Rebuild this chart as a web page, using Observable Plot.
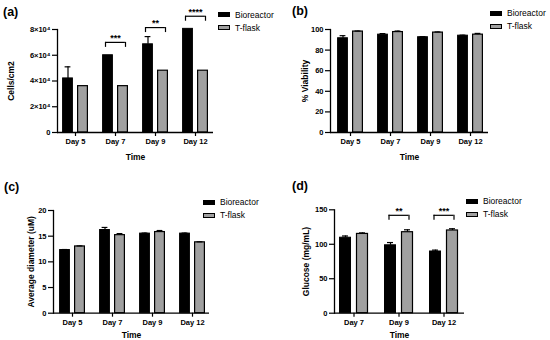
<!DOCTYPE html>
<html><head><meta charset="utf-8">
<script src="https://cdn.jsdelivr.net/npm/d3@7"></script>
<script src="https://cdn.jsdelivr.net/npm/@observablehq/plot@0.6"></script>
<style>
body{margin:0;background:#fff;}
#fig{position:relative;width:550px;height:340px;font-family:"Liberation Sans",Arial,sans-serif;color:#000;overflow:hidden;}
.panel{position:absolute;}
.panel g[aria-label$="axis label"]{font-size:8.5px;}
.tag{position:absolute;font-weight:bold;font-size:12.5px;line-height:1;}
.legend{position:absolute;font-size:8.5px;}
.legend div{display:flex;align-items:center;height:13px;white-space:nowrap;}
.sw{display:inline-block;width:12px;height:5px;margin-right:5px;box-sizing:border-box;border:1px solid #000;}
</style></head><body><div id="fig"></div>
<script>
// ---- data ----
const series = ["Bioreactor", "T-flask"];
const seriesFill = ["#000000", "#a0a0a0"];
const days4 = ["Day 5", "Day 7", "Day 9", "Day 12"];
const days3 = ["Day 7", "Day 9", "Day 12"];

// (a) Cells/cm2
const cellsBio = [42000, 60000, 68500, 80500];
const cellsBioErr = [9000, 0, 6000, 0];
const cellsTf = [36000, 36000, 48000, 48000];
const cellsTfErr = [0, 0, 0, 0];
const cellsTicks = [0, 20000, 40000, 60000, 80000];
const cellsSigDays = ["Day 7", "Day 9", "Day 12"];
const cellsSigLabels = ["***", "**", "****"];
const cellsSigLevels = [70000, 81500, 90300];

// (b) % Viability
const viaBio = [91.5, 95, 92.5, 94];
const viaBioErr = [2.5, 1, 0.5, 0.5];
const viaTf = [98, 97.5, 97, 95];
const viaTfErr = [0.5, 1, 0.6, 1.2];
const viaTicks = [0, 20, 40, 60, 80, 100];

// (c) Average diameter
const diaBio = [12.3, 16.2, 15.5, 15.5];
const diaBioErr = [0.1, 0.5, 0.1, 0.1];
const diaTf = [13.0, 15.2, 15.8, 13.8];
const diaTfErr = [0.1, 0.3, 0.3, 0.1];
const diaTicks = [0, 5, 10, 15, 20];

// (d) Glucose
const gluBio = [109.5, 98.5, 89.5];
const gluBioErr = [2.5, 4, 2];
const gluTf = [115, 117.5, 120];
const gluTfErr = [1.5, 3.5, 2.5];
const gluTicks = [0, 50, 100, 150];
const gluSigDays = ["Day 9", "Day 12"];
const gluSigLabels = ["**", "***"];
const gluSigLevels = [142, 142];

const fig = document.getElementById("fig");

function panel(o) {
  const W = 275, H = 170;
  const bioRows = o.days.map((d, i) => ({day: d, v: o.bio[i], e: o.bioErr[i]}));
  const tfRows = o.days.map((d, i) => ({day: d, v: o.tf[i], e: o.tfErr[i]}));
  const step = (o.xRange[1] - o.xRange[0]) / o.days.length;
  const ins = (sgn) => ({insetLeft: step / 2 + sgn * o.off - o.barW / 2, insetRight: step / 2 - sgn * o.off - o.barW / 2});
  const capIns = (sgn) => ({insetLeft: step / 2 + sgn * o.off - 3, insetRight: step / 2 - sgn * o.off - 3});
  const ph = H - o.mT - o.mB;
  const leg = o.yMax / ph * 5;
  const sig = (o.sigDays || []).map((d, i) => ({day: d, y: o.sigLevels[i], label: o.sigLabels[i]}));
  const bioE = bioRows.filter(r => r.e > 0), tfE = tfRows.filter(r => r.e > 0);
  const bh = o.bh;
  const p = Plot.plot({
    width: W, height: H,
    marginLeft: o.mL, marginRight: o.mR, marginTop: o.mT, marginBottom: o.mB,
    style: {fontFamily: "Liberation Sans, Arial, sans-serif", color: "#000", background: "transparent", overflow: "visible"},
    x: {type: "band", domain: o.days, range: o.xRange, padding: 0},
    y: {domain: [0, o.yMax]},
    marks: [
      Plot.barY(bioRows, {x: "day", y: "v", fill: seriesFill[0], stroke: "#000", strokeWidth: 1, ...ins(-1)}),
      Plot.barY(tfRows, {x: "day", y: "v", fill: seriesFill[1], stroke: "#000", strokeWidth: 1.2, ...ins(1)}),
      Plot.ruleX(bioE, {x: "day", y1: "v", y2: r => r.v + r.e, dx: -o.off, stroke: "#000", strokeWidth: 1.2}),
      Plot.tickY(bioE, {x: "day", y: r => r.v + r.e, stroke: "#000", strokeWidth: 1.2, ...capIns(-1)}),
      Plot.ruleX(tfE, {x: "day", y1: "v", y2: r => r.v + r.e, dx: o.off, stroke: "#000", strokeWidth: 1.2}),
      Plot.tickY(tfE, {x: "day", y: r => r.v + r.e, stroke: "#000", strokeWidth: 1.2, ...capIns(1)}),
      Plot.tickY(sig, {x: "day", y: "y", stroke: "#000", strokeWidth: 1.2, insetLeft: step / 2 - bh, insetRight: step / 2 - bh}),
      Plot.ruleX(sig, {x: "day", y1: r => r.y - leg, y2: "y", dx: -bh, stroke: "#000", strokeWidth: 1.2}),
      Plot.ruleX(sig, {x: "day", y1: r => r.y - leg, y2: "y", dx: bh, stroke: "#000", strokeWidth: 1.2}),
      Plot.text(sig, {x: "day", y: "y", text: "label", dy: -4, fontWeight: "bold", fontSize: 9}),
      Plot.ruleY([0], {stroke: "#000", strokeWidth: 1.3}),
      Plot.axisY({ticks: o.yTicks, tickFormat: o.yFormat, tickSize: 5, tickPadding: 2, fontSize: 7.5, fontWeight: "bold", strokeWidth: 1.2,
        label: o.yLabel, labelAnchor: "center", labelArrow: "none", labelOffset: o.yLabelOffset}),
      Plot.axisX({tickSize: 4, tickPadding: 2, fontSize: 7.5, fontWeight: "bold", strokeWidth: 1.2,
        label: "Time", labelAnchor: "center", labelArrow: "none", labelOffset: o.xLabelOffset}),
      Plot.frame({anchor: "left", stroke: "#000", strokeWidth: 1.3})
    ]
  });
  p.classList.add("panel");
  p.style.left = o.left + "px";
  p.style.top = o.top + "px";
  fig.appendChild(p);

  const tag = document.createElement("div");
  tag.className = "tag";
  tag.textContent = o.tag;
  tag.style.left = o.tagPos[0] + "px";
  tag.style.top = o.tagPos[1] + "px";
  fig.appendChild(tag);

  const lg = document.createElement("div");
  lg.className = "legend";
  lg.style.left = o.legPos[0] + "px";
  lg.style.top = o.legPos[1] + "px";
  series.forEach((s, i) => {
    const row = document.createElement("div");
    const sw = document.createElement("span");
    sw.className = "sw";
    sw.style.background = seriesFill[i];
    row.appendChild(sw);
    row.appendChild(document.createTextNode(s));
    lg.appendChild(row);
  });
  fig.appendChild(lg);
}

const sup4 = d => d === 0 ? "0" : `${d / 10000}×10⁴`;

panel({tag: "(a)", tagPos: [3, 6], legPos: [218, 8], left: 0, top: 0,
  days: days4, bio: cellsBio, bioErr: cellsBioErr, tf: cellsTf, tfErr: cellsTfErr,
  sigDays: cellsSigDays, sigLabels: cellsSigLabels, sigLevels: cellsSigLevels,
  yMax: 80000, yTicks: cellsTicks, yFormat: sup4, yLabel: "Cells/cm2",
  mL: 57, mR: 62, mT: 29, mB: 38, xRange: [54.4, 215.2], barW: 10, off: 7.5, bh: 10,
  yLabelOffset: 49.5, xLabelOffset: 27.5});

panel({tag: "(b)", tagPos: [292, 5], legPos: [490, 6.5], left: 275, top: 0,
  days: days4, bio: viaBio, bioErr: viaBioErr, tf: viaTf, tfErr: viaTfErr,
  yMax: 100, yTicks: viaTicks, yFormat: d => String(d), yLabel: "% Viability",
  mL: 55, mR: 62, mT: 29, mB: 38, xRange: [54.4, 215.2], barW: 10, off: 7.5, bh: 10,
  yLabelOffset: 28.8, xLabelOffset: 27.5});

panel({tag: "(c)", tagPos: [4, 180.5], legPos: [203, 195.5], left: 0, top: 170,
  days: days4, bio: diaBio, bioErr: diaBioErr, tf: diaTf, tfErr: diaTfErr,
  yMax: 20, yTicks: diaTicks, yFormat: d => String(d), yLabel: "Average diameter (uM)",
  mL: 53, mR: 66, mT: 40, mB: 27.3, xRange: [51.4, 212.2], barW: 10, off: 7.5, bh: 10,
  yLabelOffset: 25.5, xLabelOffset: 24.8});

panel({tag: "(d)", tagPos: [292, 179.5], legPos: [466, 194.5], left: 275, top: 170,
  days: days3, bio: gluBio, bioErr: gluBioErr, tf: gluTf, tfErr: gluTfErr,
  sigDays: gluSigDays, sigLabels: gluSigLabels, sigLevels: gluSigLevels,
  yMax: 150, yTicks: gluTicks, yFormat: d => String(d), yLabel: "Glucose (mg/mL)",
  mL: 59, mR: 86, mT: 39.3, mB: 27.3, xRange: [55.5, 190.5], barW: 11, off: 8.5, bh: 10,
  yLabelOffset: 31.2, xLabelOffset: 24.8});
</script>
</body></html>
